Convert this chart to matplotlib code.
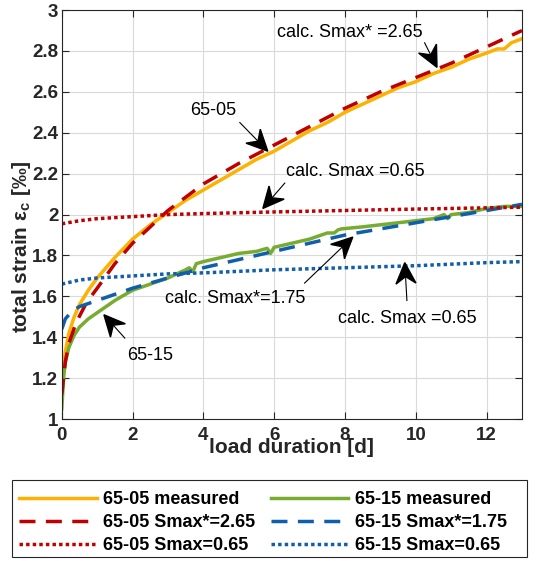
import numpy as np
import matplotlib
matplotlib.use("Agg")
import matplotlib.pyplot as plt
from matplotlib.patches import Polygon, Rectangle
from matplotlib.transforms import IdentityTransform
from matplotlib.ticker import FormatStrFormatter, MultipleLocator

plt.rcParams['font.family'] = ['Liberation Sans', 'DejaVu Sans']
plt.rcParams['mathtext.fontset'] = 'custom'
plt.rcParams['mathtext.rm'] = 'Liberation Sans:bold'
plt.rcParams['mathtext.bf'] = 'Liberation Sans:bold'

# 65-05 measured
t_0505 = [0, 0.05, 0.1, 0.2, 0.35, 0.5, 0.75, 1, 1.5, 2, 2.5, 3, 3.5, 4, 4.5, 5, 5.5, 6,
          6.5, 7, 7.5, 8, 8.5, 9, 9.5, 10, 10.5, 11, 11.5, 12, 12.3, 12.5, 12.7, 13]
e_0505 = [1.12, 1.25, 1.33, 1.42, 1.5, 1.56, 1.63, 1.69, 1.79, 1.88, 1.95, 2.01, 2.07, 2.12,
          2.17, 2.22, 2.27, 2.31, 2.36, 2.41, 2.45, 2.5, 2.54, 2.58, 2.62, 2.65, 2.69, 2.72,
          2.76, 2.79, 2.81, 2.81, 2.84, 2.86]
# 65-05 calc Smax*=2.65
t_0505_c1 = [0, 0.05, 0.1, 0.2, 0.4, 0.7, 1, 1.5, 2, 3, 4, 5, 6, 7, 8, 9, 10, 11, 12, 13]
e_0505_c1 = [1.12, 1.2, 1.28, 1.37, 1.47, 1.57, 1.64, 1.76, 1.86, 2.02, 2.15, 2.25, 2.34,
             2.43, 2.52, 2.6, 2.67, 2.74, 2.82, 2.90]
# 65-05 calc Smax=0.65
t_0505_c2 = [0, 0.5, 1, 2, 3, 4, 6, 8, 10, 12, 13]
e_0505_c2 = [1.955, 1.97, 1.98, 1.99, 2.0, 2.005, 2.013, 2.02, 2.027, 2.033, 2.036]

# 65-15 measured
t_0515 = [0, 0.05, 0.1, 0.2, 0.35, 0.5, 0.75, 1, 1.5, 2, 2.5, 3, 3.5, 3.6, 3.7, 3.8, 4, 4.5,
          5, 5.5, 5.8, 5.9, 6.0, 6.5, 7, 7.5, 7.7, 7.8, 7.9, 8.5, 9, 9.5, 10, 10.5, 10.8,
          10.9, 11.0, 11.5, 12, 12.5, 13]
e_0515 = [1.05, 1.2, 1.28, 1.35, 1.41, 1.45, 1.49, 1.52, 1.58, 1.63, 1.66, 1.69, 1.73, 1.74,
          1.72, 1.76, 1.77, 1.79, 1.81, 1.82, 1.835, 1.81, 1.84, 1.86, 1.88, 1.91, 1.91, 1.925,
          1.93, 1.94, 1.95, 1.96, 1.97, 1.98, 2.0, 1.98, 2.0, 2.01, 2.03, 2.04, 2.04]
# 65-15 calc Smax*=1.75
t_0515_c1 = [0, 0.1, 0.3, 0.5, 1, 1.5, 2, 3, 4, 5, 6, 7, 8, 9, 10, 11, 12, 13]
e_0515_c1 = [1.44, 1.49, 1.53, 1.55, 1.58, 1.61, 1.64, 1.69, 1.74, 1.78, 1.82, 1.86, 1.9,
             1.93, 1.96, 1.99, 2.02, 2.05]
# 65-15 calc Smax=0.65
t_0515_c2 = [0, 0.5, 1, 2, 3, 4, 6, 8, 10, 12, 13]
e_0515_c2 = [1.66, 1.68, 1.69, 1.70, 1.71, 1.715, 1.73, 1.74, 1.75, 1.765, 1.77]

# annotations: text, text position, arrow tail, arrow tip
notes = [
    ("calc. Smax* =2.65", (8.14, 2.89), (10.25, 2.84), (10.6, 2.72)),
    ("65-05", (4.27, 2.51), (5.03, 2.45), (5.82, 2.31)),
    ("calc. Smax =0.65", (8.28, 2.21), (6.3, 2.154), (5.68, 2.03)),
    ("calc. Smax*=1.75", (4.89, 1.59), (6.86, 1.665), (8.22, 1.89)),
    ("calc. Smax =0.65", (9.77, 1.494), (9.75, 1.58), (9.69, 1.765)),
    ("65-15", (2.49, 1.313), (1.78, 1.396), (1.19, 1.51)),
]

orange = '#FDB100'
green = '#77AC30'
red = '#C00000'
blue = '#0F5FAA'

fig = plt.figure(figsize=(5.42, 5.61), dpi=100)
ax = fig.add_axes([0.114, 0.253, 0.849, 0.729])

lw = 2.5
l1, = ax.plot(t_0505, e_0505, color=orange, lw=lw, label='65-05 measured')
l4, = ax.plot(t_0515, e_0515, color=green, lw=lw, label='65-15 measured')
l2, = ax.plot(t_0505_c1, e_0505_c1, color=red, lw=lw, dashes=(4.6, 3), label='65-05 Smax*=2.65')
l5, = ax.plot(t_0515_c1, e_0515_c1, color=blue, lw=lw, dashes=(4.6, 3), label='65-15 Smax*=1.75')
l3, = ax.plot(t_0505_c2, e_0505_c2, color=red, lw=lw, dashes=(1, 0.9), label='65-05 Smax=0.65')
l6, = ax.plot(t_0515_c2, e_0515_c2, color=blue, lw=lw, dashes=(1, 0.9), label='65-15 Smax=0.65')

ax.set_xlim(0, 13)
ax.set_ylim(1, 3)

# MATLAB-like arrows with a notched head, built in pixel space
for txt, pos, tail, tip in notes:
    ax.text(pos[0], pos[1], txt, ha='center', va='center', fontsize=13, color='black')
    p0 = ax.transData.transform(tail)
    p1 = ax.transData.transform(tip)
    u = (p1 - p0) / np.hypot(*(p1 - p0))
    n = np.array([-u[1], u[0]])
    L, W, notch = 21, 10, 7
    head = [p1, p1 - L * u + W * n, p1 - (L - notch) * u, p1 - L * u - W * n]
    notch_pt = p1 - (L - notch) * u
    ax.plot([p0[0], notch_pt[0]], [p0[1], notch_pt[1]], color='black', lw=0.8,
            transform=IdentityTransform(), clip_on=False)
    ax.add_patch(Polygon(head, closed=True, color='black', transform=IdentityTransform(),
                         clip_on=False, zorder=5))

ax.xaxis.set_major_locator(MultipleLocator(2))
ax.yaxis.set_major_locator(MultipleLocator(0.2))
ax.xaxis.set_major_formatter(FormatStrFormatter('%g'))
ax.yaxis.set_major_formatter(FormatStrFormatter('%g'))
ax.grid(True, color='#DADADA', lw=0.8)
ax.set_axisbelow(True)
ax.tick_params(direction='in', top=True, right=True, length=5, width=0.8,
               labelsize=13.5, colors='#262626')
ax.tick_params(axis='x', pad=6)
ax.tick_params(axis='y', pad=2.5)
for lab in ax.get_xticklabels() + ax.get_yticklabels():
    lab.set_fontweight('bold')
for s in ax.spines.values():
    s.set_color('#262626')
    s.set_linewidth(0.8)

ax.set_xlabel('load duration [d]', fontsize=15, fontweight='bold', color='#262626', va='top')
ax.xaxis.set_label_coords(0.5, -0.047)
ax.set_ylabel('total strain ε$_\\mathbf{c}$ [‰]', fontsize=15, fontweight='bold',
              color='#262626')
ax.yaxis.set_label_coords(-0.062, 0.423)

leg = fig.legend(handles=[l1, l2, l3, l4, l5, l6], ncol=2, loc='upper left',
                 bbox_to_anchor=(0.022, 0.137), frameon=False,
                 prop={'size': 13, 'weight': 'bold'}, handlelength=4.3,
                 labelspacing=0.32, borderaxespad=0, borderpad=0.4,
                 columnspacing=0.85, handletextpad=0.35)
fig.add_artist(Rectangle((12 / 542, 4 / 561), 515 / 542, 77 / 561, transform=fig.transFigure,
                         fill=False, edgecolor='#262626', lw=0.8))

fig.savefig('out.png', dpi=100)
